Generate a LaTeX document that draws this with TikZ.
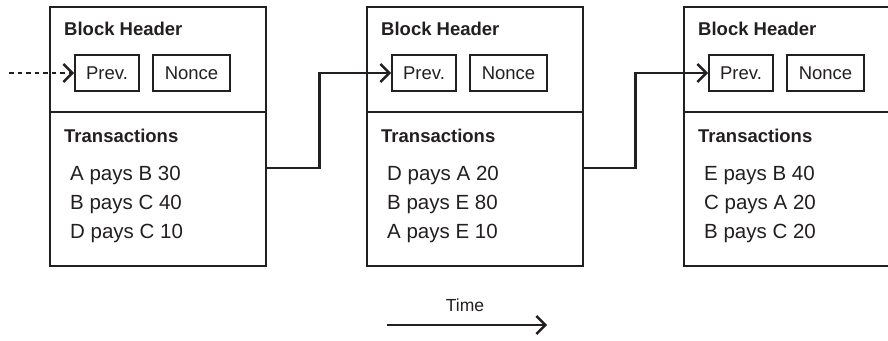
\documentclass[tikz,border=0pt]{standalone}
\usepackage{fontspec}
\setmainfont{Liberation Sans}
\usetikzlibrary{arrows.meta}
\definecolor{ink}{HTML}{231F20}
\tikzset{
  blockbox/.style={draw=ink, line width=2.8pt, minimum width=216pt, minimum height=259pt, inner sep=0pt},
  fieldbox/.style={draw=ink, text=ink, line width=1.8pt, minimum height=36pt, inner sep=0pt, font=\fontsize{18.5}{22}\selectfont},
  hdr/.style={anchor=west, inner sep=0pt, text=ink, font=\fontsize{18.5}{22}\selectfont\bfseries},
  tx/.style={anchor=west, inner sep=0pt, text=ink, font=\fontsize{20.5}{24}\selectfont},
  conn/.style={draw=ink, line width=2.4pt, -{Straight Barb[length=9pt,width=18pt]}},
}
\begin{document}
\begin{tikzpicture}[x=1pt,y=-1pt]
\clip (0,0) rectangle (888,340);
\fill[white] (0,0) rectangle (888,340);
% blocks
\foreach \n/\L in {1/50,2/367,3/684}{
  \node[blockbox] (b\n) at (\L+108,136.5) {};
  \draw[ink, line width=2.4pt] (\L,112) -- (\L+216,112);
  \node[hdr] (h\n) at (\L+14,29) {Block Header};
  \node[hdr] (t\n) at (\L+14,136) {Transactions};
  \node[fieldbox, minimum width=64pt] (prev\n) at (\L+57,73) {Prev.};
  \node[fieldbox, minimum width=77pt] (nonce\n) at (\L+141.5,73) {Nonce};
}
\node[tx] (a1) at (70,175) {A pays B 30};
\node[tx] (a2) at (70,204) {B pays C 40};
\node[tx] (a3) at (70,233) {D pays C 10};
\node[tx] (c1) at (387,175) {D pays A 20};
\node[tx] (c2) at (387,204) {B pays E 80};
\node[tx] (c3) at (387,233) {A pays E 10};
\node[tx] (e1) at (704,175) {E pays B 40};
\node[tx] (e2) at (704,204) {C pays A 20};
\node[tx] (e3) at (704,233) {B pays C 20};
% connectors
\coordinate (start) at (9,73);
\draw[conn, dash pattern=on 4.5pt off 4pt] (start) -- (prev1.west);
\draw[conn] ([yshift=-31.5pt]b1.east) -- ++(52,0) |- (prev2.west);
\draw[conn] ([yshift=-31.5pt]b2.east) -- ++(51,0) |- (prev3.west);
% time
\node[text=ink, font=\fontsize{17.5}{21}\selectfont] (time) at (465,305) {Time};
\coordinate (ts) at (387,325);
\coordinate (te) at (547,325);
\draw[conn] (ts) -- (te);
\end{tikzpicture}
\end{document}
